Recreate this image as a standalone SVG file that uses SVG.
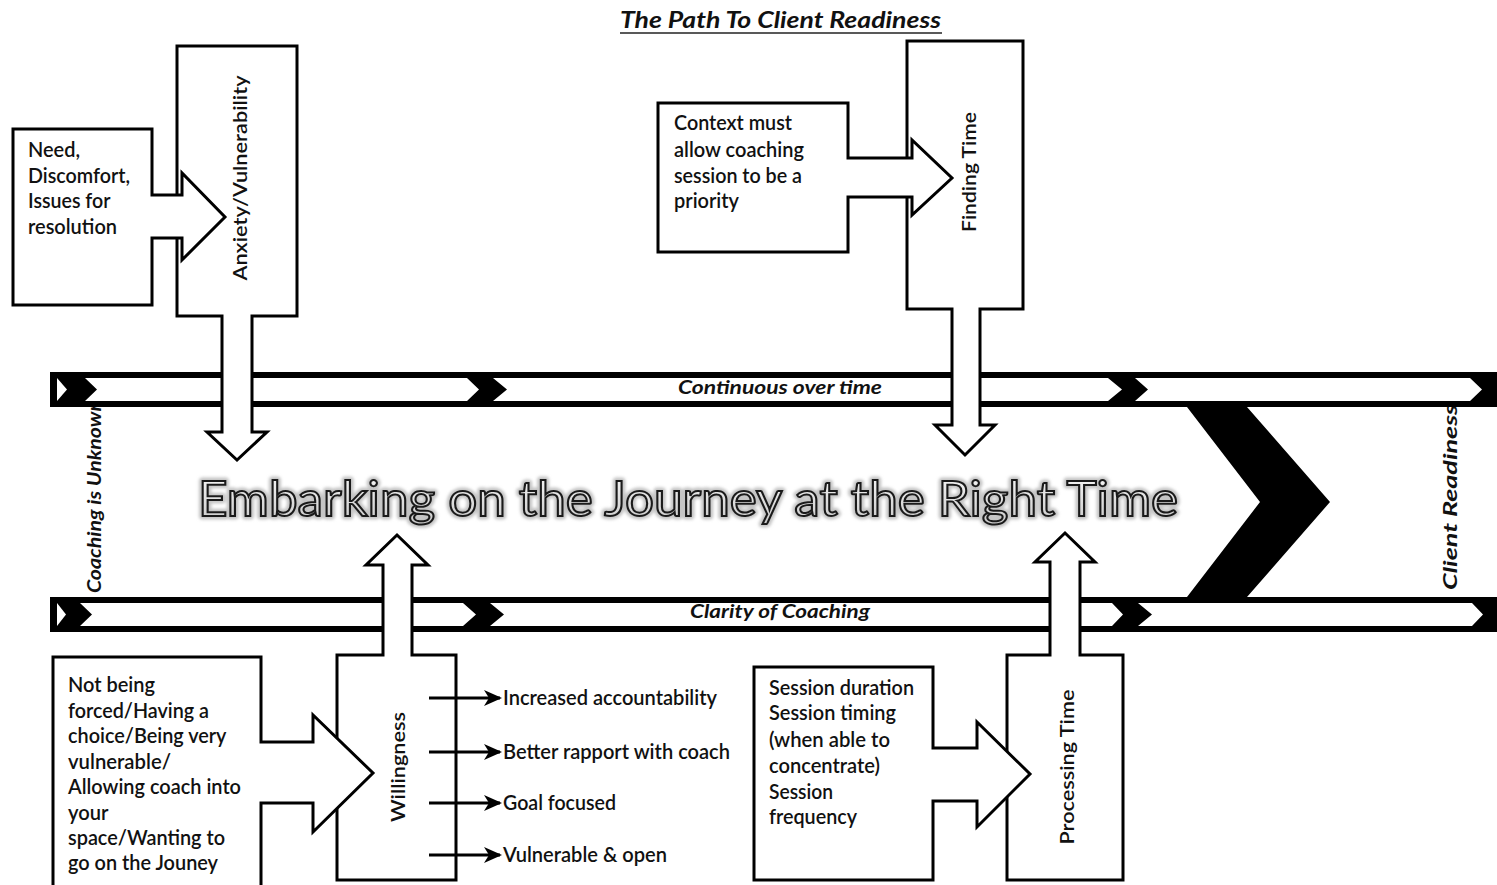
<svg xmlns="http://www.w3.org/2000/svg" width="1497" height="885" viewBox="0 0 1497 885">
  <defs>
    <style>
      .t{font-family:Lato,'Open Sans','Noto Sans',sans-serif;fill:#111;}
      .body{font-size:21px;font-weight:600;}
      .lbl{font-size:20px;font-weight:600;text-anchor:middle;}
      .bi{font-weight:bold;font-style:italic;font-size:18px;}
      .shape{fill:#fff;stroke:#000;stroke-width:3;stroke-linejoin:miter;}
      .band{fill:#000;}
      .lane{fill:#fff;}
      .head{font-family:Lato,'Open Sans','Noto Sans',sans-serif;font-size:48px;}
      .glow{fill:#c4c4c4;stroke:#c4c4c4;stroke-width:7;stroke-linejoin:round;}
      .face{fill:url(#faceGrad);stroke:#1a1a1a;stroke-width:2;}
      .link{stroke:#000;stroke-width:3;fill:none;}
    </style>
    <linearGradient id="faceGrad" x1="0" y1="0" x2="0" y2="1">
      <stop offset="0" stop-color="#fafafa"/>
      <stop offset="1" stop-color="#c8c8c8"/>
    </linearGradient>
    <filter id="soft" x="-5%" y="-40%" width="110%" height="180%">
      <feGaussianBlur stdDeviation="1.8"/>
    </filter>
    <marker id="tip" viewBox="0 0 18 16" refX="16" refY="8" markerWidth="18" markerHeight="16" markerUnits="userSpaceOnUse" orient="auto">
      <path d="M0,0 L18,8 L0,16 L5,8 Z" fill="#000"/>
    </marker>
  </defs>

  <rect x="0" y="0" width="1497" height="885" fill="#fff"/>

  <!-- heading -->
  <g id="title">
    <text class="t" x="620" y="28" style="font-size:22px;font-weight:bold;font-style:italic" textLength="321" lengthAdjust="spacingAndGlyphs">The Path To Client Readiness</text>
    <line x1="620" y1="33" x2="942" y2="33" stroke="#222" stroke-width="1.6"/>
  </g>

  <!-- side labels, partly covered by the bands -->
  <g id="start-label">
    <text class="t bi" transform="translate(101,593) rotate(-90)" textLength="193" lengthAdjust="spacingAndGlyphs">Coaching is Unknown</text>
  </g>
  <g id="end-label">
    <text class="t bi" transform="translate(1457,590) rotate(-90)" textLength="186" lengthAdjust="spacingAndGlyphs">Client Readiness</text>
  </g>

  <!-- upper timeline band -->
  <g id="band-top">
    <rect class="band" x="50" y="372" width="1447" height="35"/>
    <polygon class="lane" points="57,378 67,389.5 57,401"/>
    <polygon class="lane" points="85,378 467,378 479,389.5 467,401 85,401 97,389.5"/>
    <polygon class="lane" points="493,378 1108,378 1122,389.5 1108,401 493,401 507,389.5"/>
    <polygon class="lane" points="1135,378 1470,378 1482,389.5 1470,401 1135,401 1148,389.5"/>
    <text class="t bi" x="780" y="394" text-anchor="middle" textLength="204" lengthAdjust="spacingAndGlyphs">Continuous over time</text>
  </g>

  <!-- lower timeline band -->
  <g id="band-bottom">
    <rect class="band" x="50" y="597" width="1447" height="35"/>
    <polygon class="lane" points="57,603 66,614.5 57,626"/>
    <polygon class="lane" points="80,603 463,603 476,614.5 463,626 80,626 92,614.5"/>
    <polygon class="lane" points="490,603 1112,603 1123,614.5 1112,626 490,626 504,614.5"/>
    <polygon class="lane" points="1138,603 1472,603 1483,614.5 1472,626 1138,626 1152,614.5"/>
    <text class="t bi" x="780" y="618" text-anchor="middle" textLength="180" lengthAdjust="spacingAndGlyphs">Clarity of Coaching</text>
  </g>

  <!-- large chevron between the bands -->
  <g id="chevron">
    <polygon fill="#000" points="1187,407 1247,407 1330,502 1247,597 1187,597 1260,502"/>
  </g>

  <!-- Anxiety / Vulnerability: down arrow callout -->
  <g id="anxiety">
    <path class="shape" d="M177,46 H297 V316 H252 V432 H267 L237,460 L207,432 H222 V316 H177 Z"/>
    <text class="t lbl" transform="translate(247,178) rotate(-90)" textLength="205" lengthAdjust="spacingAndGlyphs">Anxiety/Vulnerability</text>
  </g>

  <!-- Need: right arrow callout -->
  <g id="need">
    <path class="shape" d="M13,129 H152 V195 H182 V173 L225,217 L182,260 V238 H152 V305 H13 Z"/>
    <text class="t body">
      <tspan x="28" y="157" textLength="52" lengthAdjust="spacingAndGlyphs">Need,</tspan>
      <tspan x="28" y="183" textLength="102" lengthAdjust="spacingAndGlyphs">Discomfort,</tspan>
      <tspan x="28" y="208" textLength="82" lengthAdjust="spacingAndGlyphs">Issues for</tspan>
      <tspan x="28" y="234" textLength="89" lengthAdjust="spacingAndGlyphs">resolution</tspan>
    </text>
  </g>

  <!-- Finding Time: down arrow callout -->
  <g id="finding-time">
    <path class="shape" d="M907,41 H1023 V309 H980 V425 H995 L965,455 L935,425 H952 V309 H907 Z"/>
    <text class="t lbl" transform="translate(976,172) rotate(-90)" textLength="120" lengthAdjust="spacingAndGlyphs">Finding Time</text>
  </g>

  <!-- Context: right arrow callout -->
  <g id="context">
    <path class="shape" d="M658,103 H848 V158 H912 V140 L952,178 L912,215 V197 H848 V252 H658 Z"/>
    <text class="t body">
      <tspan x="674" y="130" textLength="118" lengthAdjust="spacingAndGlyphs">Context must</tspan>
      <tspan x="674" y="157" textLength="130" lengthAdjust="spacingAndGlyphs">allow coaching</tspan>
      <tspan x="674" y="183" textLength="128" lengthAdjust="spacingAndGlyphs">session to be a</tspan>
      <tspan x="674" y="208" textLength="65" lengthAdjust="spacingAndGlyphs">priority</tspan>
    </text>
  </g>

  <!-- Willingness: up arrow callout -->
  <g id="willingness">
    <path class="shape" d="M337,655 H383 V565 H366 L397,535 L428,565 H412 V655 H456 V880 H337 Z"/>
    <text class="t lbl" transform="translate(405,767) rotate(-90)" textLength="110" lengthAdjust="spacingAndGlyphs">Willingness</text>
  </g>

  <!-- Not being forced: right arrow callout -->
  <g id="not-being">
    <path class="shape" d="M53,657 H261 V742 H313 V715 L373,773 L313,832 V803 H261 V892 H53 Z"/>
    <text class="t body">
      <tspan x="68" y="692" textLength="87" lengthAdjust="spacingAndGlyphs">Not being</tspan>
      <tspan x="68" y="718" textLength="141" lengthAdjust="spacingAndGlyphs">forced/Having a</tspan>
      <tspan x="68" y="743" textLength="158" lengthAdjust="spacingAndGlyphs">choice/Being very</tspan>
      <tspan x="68" y="769" textLength="103" lengthAdjust="spacingAndGlyphs">vulnerable/</tspan>
      <tspan x="68" y="794" textLength="173" lengthAdjust="spacingAndGlyphs">Allowing coach into</tspan>
      <tspan x="68" y="820" textLength="40" lengthAdjust="spacingAndGlyphs">your</tspan>
      <tspan x="68" y="845" textLength="157" lengthAdjust="spacingAndGlyphs">space/Wanting to</tspan>
      <tspan x="68" y="870" textLength="150" lengthAdjust="spacingAndGlyphs">go on the Jouney</tspan>
    </text>
  </g>

  <!-- Processing Time: up arrow callout -->
  <g id="processing-time">
    <path class="shape" d="M1007,655 H1050 V562 H1035 L1065,533 L1095,562 H1080 V655 H1123 V880 H1007 Z"/>
    <text class="t lbl" transform="translate(1074,767) rotate(-90)" textLength="155" lengthAdjust="spacingAndGlyphs">Processing Time</text>
  </g>

  <!-- Session: right arrow callout -->
  <g id="session">
    <path class="shape" d="M754,667 H933 V748 H977 V722 L1030,774 L977,827 V801 H933 V880 H754 Z"/>
    <text class="t body">
      <tspan x="769" y="695" textLength="145" lengthAdjust="spacingAndGlyphs">Session duration</tspan>
      <tspan x="769" y="720" textLength="127" lengthAdjust="spacingAndGlyphs">Session timing</tspan>
      <tspan x="769" y="747" textLength="121" lengthAdjust="spacingAndGlyphs">(when able to</tspan>
      <tspan x="769" y="773" textLength="111" lengthAdjust="spacingAndGlyphs">concentrate)</tspan>
      <tspan x="769" y="799" textLength="64" lengthAdjust="spacingAndGlyphs">Session</tspan>
      <tspan x="769" y="824" textLength="88" lengthAdjust="spacingAndGlyphs">frequency</tspan>
    </text>
  </g>

  <!-- outcomes of willingness -->
  <g id="connectors">
    <line class="link" x1="429" y1="698" x2="500" y2="698" marker-end="url(#tip)"/>
    <line class="link" x1="429" y1="752" x2="500" y2="752" marker-end="url(#tip)"/>
    <line class="link" x1="429" y1="803" x2="500" y2="803" marker-end="url(#tip)"/>
    <line class="link" x1="429" y1="855" x2="500" y2="855" marker-end="url(#tip)"/>
  </g>
  <g id="outcomes">
    <text class="t body" x="503" y="705" textLength="214" lengthAdjust="spacingAndGlyphs">Increased accountability</text>
    <text class="t body" x="503" y="759" textLength="227" lengthAdjust="spacingAndGlyphs">Better rapport with coach</text>
    <text class="t body" x="503" y="810" textLength="113" lengthAdjust="spacingAndGlyphs">Goal focused</text>
    <text class="t body" x="503" y="862" textLength="164" lengthAdjust="spacingAndGlyphs">Vulnerable &amp; open</text>
  </g>

  <!-- central headline -->
  <g id="headline">
    <text class="head glow" x="198" y="516" textLength="980" lengthAdjust="spacingAndGlyphs" filter="url(#soft)">Embarking on the Journey at the Right Time</text>
    <text class="head face" x="198" y="516" textLength="980" lengthAdjust="spacingAndGlyphs">Embarking on the Journey at the Right Time</text>
  </g>
</svg>
